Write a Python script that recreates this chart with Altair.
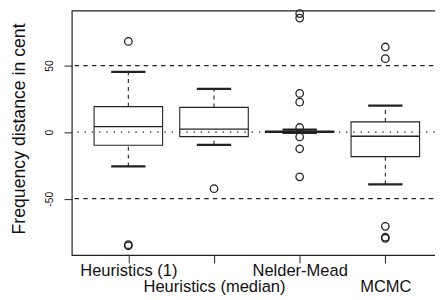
import altair as alt
import pandas as pd

# ---- data ----
categories = ["Heuristics (1)", "Heuristics (median)", "Nelder-Mead", "MCMC"]
positions = [1, 2, 3, 4]
lower_whisker = [-25.8, -9.5, -0.6, -39.3]
q1 = [-9.8, -3.4, -0.2, -18.4]
median = [4.2, 2.2, 0.3, -3.1]
q3 = [19.2, 18.6, 0.9, 7.7]
upper_whisker = [45.3, 32.5, 1.8, 20.0]

outlier_pos = [1, 1, 1, 2, 3, 3, 3, 3, 3, 3, 3, 3, 4, 4, 4, 4, 4]
outlier_value = [68.2, -84.6, -85.4, -42.5,
                 89.1, 85.7, 29.1, 22.5, 3.5, -3.6, -12.5, -33.6,
                 64.0, 55.2, -70.8, -79.0, -79.8]

dashed_lines = [-50, 50]
dotted_lines = [0]
y_ticks = [-50, 0, 50]

INK = "#222222"
FONT = "Liberation Sans"

boxes = pd.DataFrame({
    "category": categories, "pos": positions, "lw": lower_whisker,
    "q1": q1, "median": median, "q3": q3, "uw": upper_whisker,
})
outliers = pd.DataFrame({"pos": outlier_pos, "value": outlier_value})
dashed = pd.DataFrame({"ref": dashed_lines})
dotted = pd.DataFrame({"ref": dotted_lines})

# label expression: staggered labels (even positions on second line)
parts = []
for p, c in zip(positions, categories):
    lab = f"['', '{c}']" if p % 2 == 0 else f"'{c}'"
    parts.append((p, lab))
label_expr = ""
for p, lab in parts[:-1]:
    label_expr += f"datum.value == {p} ? {lab} : "
label_expr += parts[-1][1]

x_scale = alt.Scale(domain=[0.34, 4.66], nice=False, zero=False)
y_scale = alt.Scale(domain=[-92.4, 91.3], nice=False, zero=False)

x_axis = alt.Axis(
    values=positions, title=None, grid=False, domain=False,
    tickSize=8, tickColor=INK, tickWidth=1,
    labelExpr=label_expr, labelFontSize=16.8, labelFont=FONT, labelColor="#111",
    labelBaseline="alphabetic", labelPadding=13, labelLineHeight=16,
    labelOverlap=False, labelFlush=False, labelBound=False,
)
y_axis = alt.Axis(
    values=y_ticks, grid=False, domain=False,
    tickSize=8, tickColor=INK, tickWidth=1,
    labelAngle=270, labelAlign="center", labelBaseline="alphabetic",
    labelPadding=12, labelFontSize=10.5, labelFont=FONT, labelColor="#111",
    labelExpr="toString(datum.value)",
    title="Frequency distance in cent", titleFontSize=18, titleFont=FONT,
    titleFontWeight="normal", titleColor="#111", titleAngle=270,
    titleAlign="center", titleBaseline="top", titleX=-62, titleY=120,
)

def X(field):
    return alt.X(f"{field}:Q", scale=x_scale, axis=x_axis)

def Y(field):
    return alt.Y(f"{field}:Q", scale=y_scale, axis=y_axis)

ref_dashed = alt.Chart(dashed).mark_rule(
    color=INK, strokeWidth=1.1, strokeDash=[4.5, 4.3]
).encode(y=Y("ref"))

ref_dotted = alt.Chart(dotted).mark_rule(
    color=INK, strokeWidth=1.4, strokeDash=[1.4, 6.0]
).encode(y=Y("ref"))

base = alt.Chart(boxes).transform_calculate(
    lo="datum.pos - 0.4", hi="datum.pos + 0.4",
    cap_lo="datum.pos - 0.2", cap_hi="datum.pos + 0.2",
)

box = base.mark_rect(fill="transparent", stroke=INK, strokeWidth=1.1).encode(
    x=X("lo"), x2="hi:Q", y=Y("q1"), y2="q3:Q"
)
med = base.mark_rule(color=INK, strokeWidth=1.3).encode(
    x=X("lo"), x2="hi:Q", y=Y("median")
)
whisk_up = base.mark_rule(color=INK, strokeWidth=1.1, strokeDash=[4, 4]).encode(
    x=X("pos"), y=Y("q3"), y2="uw:Q"
)
whisk_lo = base.mark_rule(color=INK, strokeWidth=1.1, strokeDash=[4, 4]).encode(
    x=X("pos"), y=Y("lw"), y2="q1:Q"
)
cap_up = base.mark_rule(color=INK, strokeWidth=2.3).encode(
    x=X("cap_lo"), x2="cap_hi:Q", y=Y("uw")
)
cap_lo = base.mark_rule(color=INK, strokeWidth=2.3).encode(
    x=X("cap_lo"), x2="cap_hi:Q", y=Y("lw")
)
pts = alt.Chart(outliers).mark_point(
    shape="circle", filled=False, size=58, stroke=INK, strokeWidth=1.3, opacity=1
).encode(x=X("pos"), y=Y("value"))

chart = alt.layer(
    ref_dashed, ref_dotted, box, med, whisk_up, whisk_lo, cap_up, cap_lo, pts
).properties(
    width=377, height=249,
    autosize=alt.AutoSizeParams(type="none"),
    padding={"left": 65, "top": 0, "right": -7, "bottom": 40},
    background="white",
).configure_view(stroke=INK, strokeWidth=1.2)

chart.save("out.html", embed_options={"renderer": "svg", "actions": False})
